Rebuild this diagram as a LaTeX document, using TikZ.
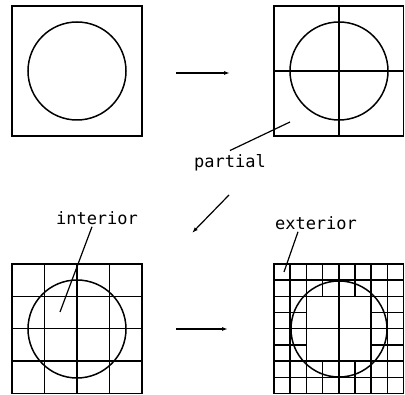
\documentclass[tikz,border=0pt]{standalone}
\usepackage{fontspec}
\newfontfamily\plotfont{DejaVu Sans Mono}
\usetikzlibrary{arrows.meta}

\tikzset{
  cell/.style={line width=1.5pt},
  pointer/.style={line width=1.2pt},
  step arrow/.style={line width=1.2pt, -{Latex[length=6pt,width=4pt]}},
  tag/.style={font=\plotfont\fontsize{17}{17}\selectfont, inner sep=1pt}
}

\begin{document}
\begin{tikzpicture}[x=1pt,y=1pt]
    \useasboundingbox (0,0) rectangle (405,395);
    % Top left: plain square with circle
    \draw[cell] (12,259) rectangle (142,389);
    \draw[cell] (77,324) circle (49);
    % Top right: first subdivision
    \draw[cell] (274,259) rectangle (403.5,389);
    \draw[cell] (339,259) -- (339,389);
    \draw[cell] (274,324) -- (403.5,324);
    \draw[cell] (339,324) circle (49);
    % Bottom left: 4x4 grid
    \draw[cell] (12,1.5) rectangle (142,131);
    \foreach \i in {1,2,3} {
      \draw[cell] (12+32.5*\i,1.5) -- (12+32.5*\i,131);
      \draw[cell] (12,1.5+32.375*\i) -- (142,1.5+32.375*\i);
    }
    \draw[cell] (77,66) circle (49);
    % Bottom right: 8x8 grid, interior cells left whole
    \draw[cell] (274,1.5) rectangle (403.5,131);
    \foreach \i in {1,2,4,6,7} {
      \draw[cell] (274+16.1875*\i,1.5) -- (274+16.1875*\i,131);
      \draw[cell] (274,1.5+16.1875*\i) -- (403.5,1.5+16.1875*\i);
    }
    \foreach \i in {3,5} {
      \draw[cell] (274+16.1875*\i,1.5) -- (274+16.1875*\i,33.875);
      \draw[cell] (274+16.1875*\i,98.625) -- (274+16.1875*\i,131);
      \draw[cell] (274,1.5+16.1875*\i) -- (306.375,1.5+16.1875*\i);
      \draw[cell] (371.125,1.5+16.1875*\i) -- (403.5,1.5+16.1875*\i);
    }
    \draw[cell] (339,66) circle (48);
    % Step arrows
    \coordinate (a1) at (176,322);
    \coordinate (a2) at (230,322);
    \coordinate (b1) at (176,66);
    \coordinate (b2) at (228,66);
    \coordinate (c1) at (229,200);
    \coordinate (c2) at (192,162);
    \draw[step arrow] (a1) -- (a2);
    \draw[step arrow] (b1) -- (b2);
    \draw[step arrow] (c1) -- (c2);
    % Labels
    \node[tag] (partial) at (230,232) {partial};
    \node[tag] (interior) at (97,177) {interior};
    \node[tag] (exterior) at (316,172) {exterior};
    \coordinate (partialpt) at (290,273);
    \coordinate (interiorpt) at (60,83);
    \coordinate (exteriorpt) at (284,123);
    \draw[pointer] ([yshift=3pt]partial.north) -- (partialpt);
    \draw[pointer] ([xshift=-5pt,yshift=-1pt]interior.south) -- (interiorpt);
    \draw[pointer] ([xshift=-18pt,yshift=-1pt]exterior.south) -- (exteriorpt);
\end{tikzpicture}
\end{document}
